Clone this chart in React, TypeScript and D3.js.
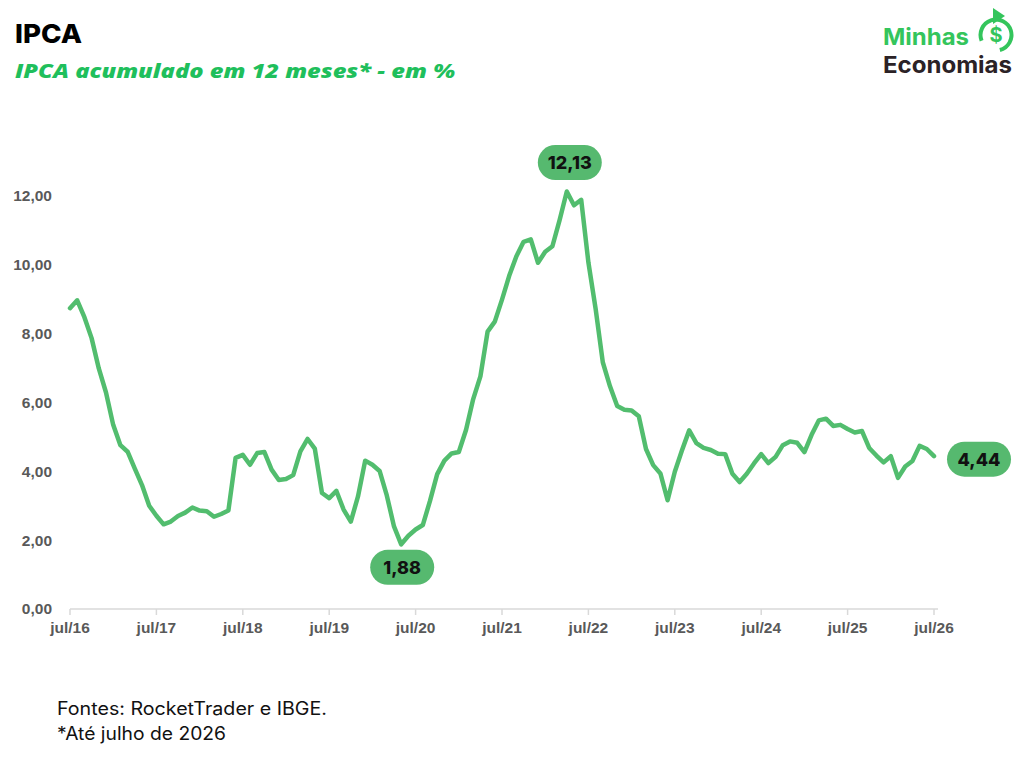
import { useEffect, useRef } from "react";
import * as d3 from "d3";

// IPCA acumulado em 12 meses, mensal, jul/16 .. jul/26
const ipca2016 = [8.74, 8.97, 8.48, 7.87, 6.99, 6.29];
const ipca2017 = [5.35, 4.76, 4.57, 4.08, 3.6, 3.0, 2.71, 2.46, 2.54, 2.7, 2.8, 2.95];
const ipca2018 = [2.86, 2.84, 2.68, 2.76, 2.86, 4.39, 4.48, 4.19, 4.53, 4.56, 4.05, 3.75];
const ipca2019 = [3.78, 3.89, 4.58, 4.94, 4.66, 3.37, 3.22, 3.43, 2.89, 2.54, 3.27, 4.31];
const ipca2020 = [4.19, 4.01, 3.3, 2.4, 1.88, 2.13, 2.31, 2.44, 3.14, 3.92, 4.31, 4.52];
const ipca2021 = [4.56, 5.2, 6.1, 6.76, 8.06, 8.35, 8.99, 9.68, 10.25, 10.67, 10.74, 10.06];
const ipca2022 = [10.38, 10.54, 11.3, 12.13, 11.73, 11.89, 10.07, 8.73, 7.17, 6.47, 5.9, 5.79];
const ipca2023 = [5.77, 5.6, 4.65, 4.18, 3.94, 3.16, 3.99, 4.61, 5.19, 4.82, 4.68, 4.62];
const ipca2024 = [4.51, 4.5, 3.93, 3.69, 3.93, 4.23, 4.5, 4.24, 4.42, 4.76, 4.87, 4.83];
const ipca2025 = [4.56, 5.06, 5.48, 5.53, 5.32, 5.35, 5.23, 5.13, 5.17, 4.68, 4.46, 4.26];
const ipca2026 = [4.44, 3.81, 4.14, 4.3, 4.74, 4.65, 4.44];

const xTickLabels = ["jul/16", "jul/17", "jul/18", "jul/19", "jul/20", "jul/21", "jul/22", "jul/23", "jul/24", "jul/25", "jul/26"];
const yTicks = [0, 2, 4, 6, 8, 10, 12];

// highlighted points: month index, label
const callouts = [
    { idx: 46, label: "1,88", dx: 1, dy: 23 },
    { idx: 69, label: "12,13", dx: 3, dy: -29 },
    { idx: 120, label: "4,44", dx: 45, dy: 3 },
];

const GREEN = "#52bd6e";

export default function App() {
    const svgRef = useRef<SVGSVGElement | null>(null);

    useEffect(() => {
        if (!svgRef.current) return;
        const svg = d3.select(svgRef.current);
        svg.selectAll("*").remove();

        const data = [
            ...ipca2016, ...ipca2017, ...ipca2018, ...ipca2019, ...ipca2020, ...ipca2021,
            ...ipca2022, ...ipca2023, ...ipca2024, ...ipca2025, ...ipca2026,
        ];

        const x = d3.scaleLinear().domain([0, data.length - 1]).range([70, 934]);
        const y = d3.scaleLinear().domain([0, 12]).range([609, 196]);

        // titles
        svg.append("text")
            .attr("x", 15).attr("y", 43)
            .attr("font-family", "Inter, 'Open Sans', sans-serif")
            .attr("font-weight", 800).attr("font-size", 26)
            .attr("textLength", 67).attr("lengthAdjust", "spacingAndGlyphs")
            .attr("fill", "#000").text("IPCA");
        svg.append("text")
            .attr("x", 15).attr("y", 78)
            .attr("font-family", "'Open Sans', sans-serif")
            .attr("font-weight", 800).attr("font-style", "italic").attr("font-size", 20)
            .attr("textLength", 440).attr("lengthAdjust", "spacingAndGlyphs")
            .attr("fill", "#1fbf5c").text("IPCA acumulado em 12 meses* - em %");

        // logo
        const logo = svg.append("g");
        logo.append("text")
            .attr("x", 883).attr("y", 45)
            .attr("font-family", "Inter, 'Open Sans', sans-serif")
            .attr("font-weight", 700).attr("font-size", 23)
            .attr("textLength", 86).attr("lengthAdjust", "spacingAndGlyphs")
            .attr("fill", "#34c55c").text("Minhas");
        logo.append("text")
            .attr("x", 883).attr("y", 73)
            .attr("font-family", "Inter, 'Open Sans', sans-serif")
            .attr("font-weight", 700).attr("font-size", 23)
            .attr("textLength", 129).attr("lengthAdjust", "spacingAndGlyphs")
            .attr("fill", "#2b2226").text("Economias");
        logo.append("path")
            .attr("transform", "translate(996,35)")
            .attr("d", d3.arc()({ innerRadius: 13.5, outerRadius: 17.5, startAngle: -Math.PI * 0.62, endAngle: Math.PI * 0.92 } as any) || "")
            .attr("fill", "#34c55c");
        logo.append("path")
            .attr("d", "M993,8 L1005,16 L993,24 Z")
            .attr("fill", "#34c55c");
        logo.append("text")
            .attr("x", 996).attr("y", 42)
            .attr("text-anchor", "middle")
            .attr("font-family", "Inter, 'Open Sans', sans-serif")
            .attr("font-weight", 700).attr("font-size", 20)
            .attr("fill", "#34c55c").text("$");

        // y labels
        svg.append("g")
            .selectAll("text")
            .data(yTicks)
            .enter()
            .append("text")
            .attr("x", 52)
            .attr("y", (d) => y(d))
            .attr("dy", "0.35em")
            .attr("text-anchor", "end")
            .attr("font-family", "'Liberation Sans', Arial, sans-serif")
            .attr("font-weight", 700).attr("font-size", 15.5)
            .attr("fill", "#595959")
            .text((d) => d3.format(".2f")(d).replace(".", ","));

        // x axis
        const xAxis = svg.append("g").attr("transform", `translate(0,${y(0)})`);
        xAxis.append("line")
            .attr("x1", 70).attr("x2", 938)
            .attr("stroke", "#d9d9d9").attr("stroke-width", 1.5);
        const ticks = xAxis.selectAll(".tick")
            .data(xTickLabels)
            .enter()
            .append("g")
            .attr("transform", (_, i) => `translate(${x(i * 12)},0)`);
        ticks.append("line").attr("y2", 6).attr("stroke", "#d9d9d9").attr("stroke-width", 1.5);
        ticks.append("text")
            .attr("y", 24)
            .attr("text-anchor", "middle")
            .attr("font-family", "'Liberation Sans', Arial, sans-serif")
            .attr("font-weight", 700).attr("font-size", 15.5)
            .attr("fill", "#595959")
            .text((d) => d);

        // line
        const line = d3.line<number>()
            .x((_, i) => x(i))
            .y((d) => y(d));
        svg.append("path")
            .datum(data)
            .attr("d", line)
            .attr("fill", "none")
            .attr("stroke", GREEN)
            .attr("stroke-width", 4.5)
            .attr("stroke-linejoin", "round")
            .attr("stroke-linecap", "round");

        // callouts
        const c = svg.selectAll(".callout")
            .data(callouts)
            .enter()
            .append("g")
            .attr("transform", (d) => `translate(${x(d.idx) + d.dx},${y(data[d.idx]) + d.dy})`);
        c.append("rect")
            .attr("x", -32).attr("y", -17.5)
            .attr("width", 64).attr("height", 35)
            .attr("rx", 17.5)
            .attr("fill", "#56b96f");
        c.append("text")
            .attr("text-anchor", "middle")
            .attr("dy", "0.36em")
            .attr("font-family", "Inter, 'Open Sans', sans-serif")
            .attr("font-weight", 800).attr("font-size", 18)
            .attr("fill", "#111")
            .text((d) => d.label);

        // footer
        svg.append("text")
            .attr("x", 57).attr("y", 715)
            .attr("font-family", "Inter, 'Open Sans', sans-serif")
            .attr("font-size", 18)
            .attr("textLength", 270).attr("lengthAdjust", "spacingAndGlyphs")
            .attr("fill", "#111").text("Fontes: RocketTrader e IBGE.");
        svg.append("text")
            .attr("x", 57).attr("y", 740)
            .attr("font-family", "Inter, 'Open Sans', sans-serif")
            .attr("font-size", 18)
            .attr("textLength", 169).attr("lengthAdjust", "spacingAndGlyphs")
            .attr("fill", "#111").text("*Até julho de 2026");
    }, []);

    return (
        <svg
            ref={svgRef}
            width={1024}
            height={768}
            style={{ position: "absolute", left: 0, top: 0, background: "#fff" }}
        />
    );
}
